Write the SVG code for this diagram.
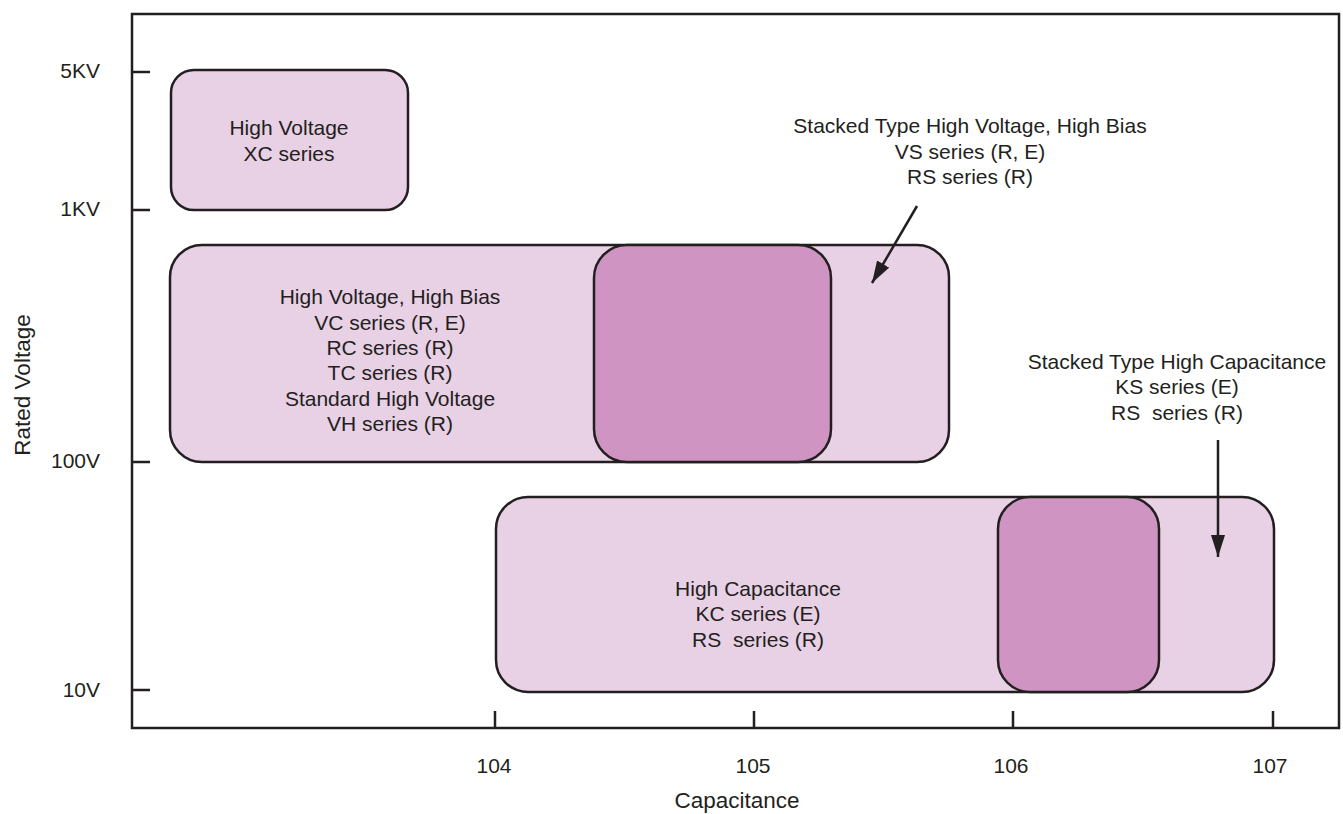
<svg xmlns="http://www.w3.org/2000/svg" width="1343" height="814" viewBox="0 0 1343 814">
<defs>
<style>
text{font-family:"Liberation Sans",Arial,sans-serif;font-size:21px;fill:#231F20}
.c{text-anchor:middle}
.r{text-anchor:end}
.big{font-size:22.5px}
.ax{fill:none;stroke:#231F20;stroke-width:2.5}
.lt{fill:#E8D0E5;stroke:#231F20;stroke-width:2.5}
.dk{fill:#CF94C1;stroke:#231F20;stroke-width:2.5}
.ar{stroke:#231F20;stroke-width:2.5;fill:none}
</style>
<marker id="ah" markerUnits="userSpaceOnUse" markerWidth="24" markerHeight="16" refX="22" refY="7" orient="auto">
<path d="M0,0 L22,7 L0,14 Z" fill="#231F20"/>
</marker>
</defs>
<rect width="1343" height="814" fill="#FFFFFF"/>
<g id="axes">
<rect class="ax" x="132" y="14" width="1207" height="714"/>
<path class="ax" d="M132,72H150M132,210H150M132,462H150M132,690H150M495,728V711M754,728V711M1013,728V711M1273,728V711"/>
<text class="r" x="100" y="78">5KV</text>
<text class="r" x="100" y="216">1KV</text>
<text class="r" x="100" y="468">100V</text>
<text class="r" x="100" y="697">10V</text>
<text class="c" x="494" y="773">104</text>
<text class="c" x="753" y="773">105</text>
<text class="c" x="1011" y="773">106</text>
<text class="c" x="1270" y="773">107</text>
<text class="c big" x="737" y="808">Capacitance</text>
<text class="c big" transform="translate(30,385) rotate(-90)">Rated Voltage</text>
</g>
<g id="xc">
<rect class="lt" x="171" y="70" width="237" height="140" rx="23"/>
<text class="c" x="289" y="135">High Voltage</text>
<text class="c" x="289" y="161">XC series</text>
</g>
<g id="vc">
<rect class="lt" x="170" y="245" width="779" height="217" rx="32"/>
<text class="c" x="390" y="304">High Voltage, High Bias</text>
<text class="c" x="390" y="330">VC series (R, E)</text>
<text class="c" x="390" y="355">RC series (R)</text>
<text class="c" x="390" y="380">TC series (R)</text>
<text class="c" x="390" y="406">Standard High Voltage</text>
<text class="c" x="390" y="431">VH series (R)</text>
</g>
<g id="vs">
<rect class="dk" x="594" y="245" width="237" height="217" rx="33"/>
</g>
<g id="kc">
<rect class="lt" x="496" y="497" width="778" height="195" rx="32"/>
<text class="c" x="758" y="596">High Capacitance</text>
<text class="c" x="758" y="621">KC series (E)</text>
<text class="c" x="758" y="647" xml:space="preserve">RS  series (R)</text>
</g>
<g id="ks">
<rect class="dk" x="998" y="497" width="161" height="195" rx="32"/>
</g>
<g id="label-vs">
<text class="c" x="970" y="133">Stacked Type High Voltage, High Bias</text>
<text class="c" x="970" y="159">VS series (R, E)</text>
<text class="c" x="970" y="184">RS series (R)</text>
</g>
<g id="label-ks">
<text class="c" x="1177" y="369">Stacked Type High Capacitance</text>
<text class="c" x="1177" y="394">KS series (E)</text>
<text class="c" x="1177" y="420" xml:space="preserve">RS  series (R)</text>
</g>
<g id="connectors">
<line class="ar" x1="917" y1="206" x2="872" y2="283" marker-end="url(#ah)"/>
<line class="ar" x1="1218" y1="440" x2="1218" y2="557" marker-end="url(#ah)"/>
</g>
</svg>
